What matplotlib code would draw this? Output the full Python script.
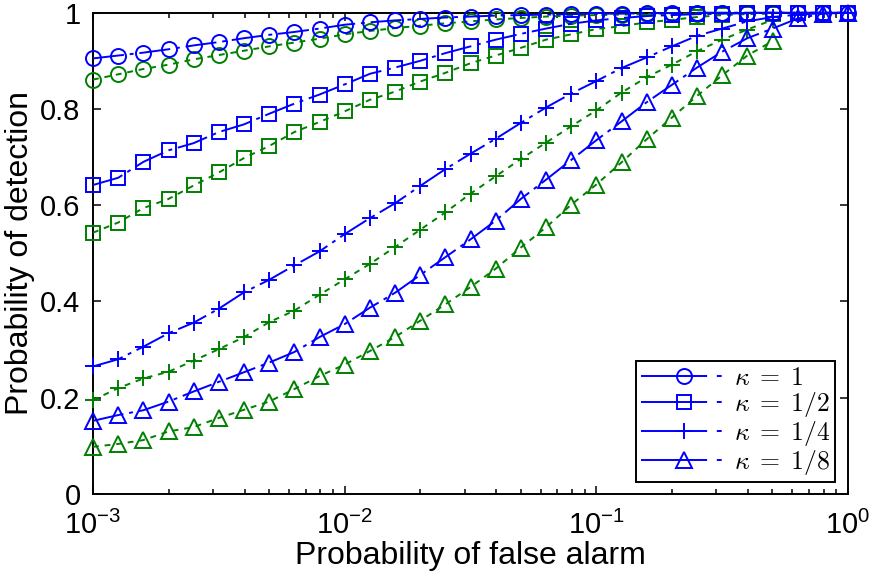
import numpy as np
import matplotlib
matplotlib.use("Agg")
import matplotlib.pyplot as plt
from matplotlib.lines import Line2D
from matplotlib.font_manager import FontProperties
from matplotlib.ticker import LogLocator, FixedLocator, FixedFormatter

plt.rcParams["font.family"] = ["Liberation Sans", "DejaVu Sans"]
plt.rcParams["mathtext.fontset"] = "custom"
plt.rcParams["mathtext.rm"] = "Liberation Sans"
plt.rcParams["mathtext.it"] = "Liberation Sans:italic"
plt.rcParams["mathtext.bf"] = "Liberation Sans:bold"

# False-alarm grid (0.1 decade steps); green series stop at 0.5
pfa = np.logspace(-3, 0, 31)
pfa_sim = pfa[:28]

kappa_labels = [r"$\kappa\;=\;1$", r"$\kappa\;=\;1/2$", r"$\kappa\;=\;1/4$", r"$\kappa\;=\;1/8$"]
markers = ["o", "s", "+", "^"]
marker_sizes = [10.8, 9.6, 11.0, 11.5]

# Detection probability, blue curves
pd_blue_k1 = [0.905, 0.911, 0.917, 0.924, 0.932, 0.939, 0.947, 0.954, 0.960, 0.967,
              0.975, 0.980, 0.984, 0.987, 0.990, 0.992, 0.994, 0.995, 0.996, 0.997,
              0.998, 0.998, 0.999, 0.999, 1.0, 1.0, 1.0, 1.0, 1.0, 1.0, 1.0]
pd_blue_k2 = [0.642, 0.657, 0.690, 0.714, 0.729, 0.752, 0.768, 0.790, 0.811, 0.830,
              0.851, 0.873, 0.886, 0.900, 0.916, 0.930, 0.944, 0.956, 0.967, 0.977,
              0.984, 0.989, 0.993, 0.995, 0.997, 0.998, 0.999, 1.0, 1.0, 1.0, 1.0]
pd_blue_k4 = [0.265, 0.280, 0.306, 0.334, 0.356, 0.385, 0.419, 0.445, 0.475, 0.504,
              0.540, 0.573, 0.604, 0.640, 0.675, 0.707, 0.738, 0.771, 0.803, 0.832,
              0.858, 0.885, 0.907, 0.930, 0.952, 0.967, 0.982, 0.991, 0.996, 0.999, 1.0]
pd_blue_k8 = [0.152, 0.164, 0.174, 0.192, 0.213, 0.233, 0.253, 0.273, 0.295, 0.326,
              0.353, 0.387, 0.418, 0.455, 0.492, 0.529, 0.568, 0.613, 0.653, 0.694,
              0.735, 0.774, 0.814, 0.850, 0.886, 0.919, 0.947, 0.967, 0.988, 0.998, 1.0]

# Detection probability, green curves
pd_green_k1 = [0.861, 0.872, 0.883, 0.892, 0.903, 0.912, 0.921, 0.930, 0.938, 0.946,
               0.955, 0.962, 0.968, 0.973, 0.978, 0.982, 0.986, 0.989, 0.992, 0.994,
               0.995, 0.996, 0.997, 0.998, 0.998, 0.999, 0.999, 1.0]
pd_green_k2 = [0.543, 0.564, 0.594, 0.613, 0.641, 0.668, 0.698, 0.723, 0.752, 0.773,
               0.795, 0.819, 0.836, 0.857, 0.875, 0.895, 0.911, 0.927, 0.944, 0.955,
               0.966, 0.972, 0.980, 0.985, 0.991, 0.995, 0.997, 0.998]
pd_green_k4 = [0.195, 0.220, 0.240, 0.254, 0.277, 0.301, 0.326, 0.357, 0.381, 0.414,
               0.446, 0.478, 0.513, 0.549, 0.585, 0.624, 0.660, 0.696, 0.730, 0.764,
               0.797, 0.834, 0.866, 0.892, 0.920, 0.944, 0.965, 0.985]
pd_green_k8 = [0.098, 0.104, 0.112, 0.130, 0.139, 0.158, 0.175, 0.192, 0.218, 0.245,
               0.269, 0.297, 0.326, 0.360, 0.394, 0.430, 0.468, 0.512, 0.554, 0.601,
               0.643, 0.689, 0.737, 0.782, 0.827, 0.870, 0.911, 0.941]

blue_series = [pd_blue_k1, pd_blue_k2, pd_blue_k4, pd_blue_k8]
green_series = [pd_green_k1, pd_green_k2, pd_green_k4, pd_green_k8]

yticks = [0, 0.2, 0.4, 0.6, 0.8, 1]
ytick_labels = ["0", "0.2", "0.4", "0.6", "0.8", "1"]

BLUE = (0, 0, 1)
GREEN = (0, 0.5, 0)
blue_dash = (0, (16, 3, 2, 3))
green_dash = (0, (3, 3))

fig = plt.figure(figsize=(8.69, 5.76), dpi=100)
ax = fig.add_axes([93 / 869, 1 - 494 / 576, (848 - 93) / 869, (494 - 12.7) / 576])

for vals, mk, ms in zip(green_series, markers, marker_sizes):
    ax.plot(pfa_sim, vals, color=GREEN, linestyle=green_dash, linewidth=1.4,
            marker=mk, markersize=ms, markerfacecolor="none",
            markeredgecolor=GREEN, markeredgewidth=1.4, clip_on=False, zorder=3)

for vals, mk, ms in zip(blue_series, markers, marker_sizes):
    ax.plot(pfa, vals, color=BLUE, linestyle=blue_dash, linewidth=1.4,
            marker=mk, markersize=ms, markerfacecolor="none",
            markeredgecolor=BLUE, markeredgewidth=1.4, clip_on=False, zorder=3)

ax.set_xscale("log")
ax.set_xlim(1e-3, 1)
ax.set_ylim(0, 1)
ax.yaxis.set_major_locator(FixedLocator(yticks))
ax.yaxis.set_major_formatter(FixedFormatter(ytick_labels))
ax.xaxis.set_major_locator(LogLocator(base=10, numticks=10))
ax.xaxis.set_minor_locator(LogLocator(base=10, subs=np.arange(2, 10), numticks=10))

ax.tick_params(which="both", direction="in", top=True, right=True,
               labelsize=21, width=1.1, colors="black")
ax.tick_params(which="major", length=6)
ax.tick_params(which="minor", length=3.5)
ax.tick_params(axis="x", which="major", pad=12)
ax.tick_params(axis="y", which="major", pad=9)
for sp in ax.spines.values():
    sp.set_linewidth(1.4)

ax.set_xlabel("Probability of false alarm", fontsize=23, labelpad=1)
ax.set_ylabel("Probability of detection", fontsize=23, labelpad=4)

handles = [Line2D([], [], color=BLUE, linestyle=(0, (34, 5, 2.5, 5)), linewidth=1.4,
                  marker=mk, markersize=ms, markerfacecolor="none",
                  markeredgecolor=BLUE, markeredgewidth=1.4)
           for mk, ms in zip(markers, marker_sizes)]
leg = ax.legend(handles, kappa_labels, loc="lower right",
                bbox_to_anchor=(835 / 869, 1 - 482 / 576), bbox_transform=fig.transFigure,
                prop=FontProperties(size=18.5, math_fontfamily="cm"),
                handlelength=3.3, handletextpad=0.3, labelspacing=0.0,
                borderpad=0.2, borderaxespad=0.0, fancybox=False, framealpha=1,
                edgecolor="black", numpoints=1)
leg.get_frame().set_linewidth(1.4)
leg.set_zorder(5)

fig.savefig("out.png", dpi=100)
